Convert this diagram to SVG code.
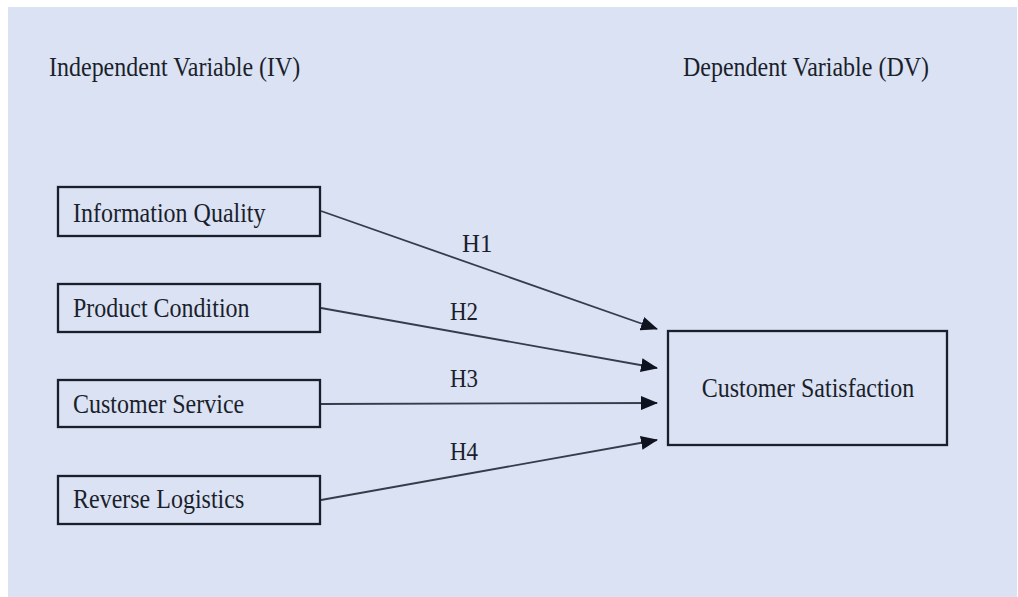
<svg xmlns="http://www.w3.org/2000/svg" width="1018" height="597" viewBox="0 0 1018 597">
  <style>
    .bg { fill: #dbe2f4; }
    .box { fill: #dbe2f4; stroke: #1a1f2c; stroke-width: 2.3; }
    .lbl { font-family: "Liberation Serif", "Times New Roman", serif; font-size: 24px; fill: #1a1f2b; }
    .hyp { font-family: "Liberation Serif", "Times New Roman", serif; font-size: 23px; fill: #1a1f2b; }
    .edge { fill: none; stroke: #363c4a; stroke-width: 1.8; }
  </style>
  <defs>
    <marker id="arrow" markerUnits="userSpaceOnUse" markerWidth="17" markerHeight="14" refX="16" refY="7" orient="auto">
      <path d="M0,0 L17,7 L0,14 Z" fill="#0f1320"/>
    </marker>
  </defs>

  <rect x="0" y="0" width="1018" height="597" fill="#ffffff"/>
  <rect class="bg" x="8" y="7" width="1009" height="590"/>

  <!-- column headings -->
  <g id="heading-iv">
    <text class="lbl" transform="translate(49,76) scale(1,1.1)">Independent Variable (IV)</text>
  </g>
  <g id="heading-dv">
    <text class="lbl" transform="translate(683,76) scale(1,1.1)">Dependent Variable (DV)</text>
  </g>

  <!-- connectors -->
  <g id="connectors">
    <line class="edge" x1="321" y1="211" x2="657" y2="329" marker-end="url(#arrow)"/>
    <line class="edge" x1="321" y1="308" x2="657" y2="368" marker-end="url(#arrow)"/>
    <line class="edge" x1="321" y1="404" x2="657" y2="403" marker-end="url(#arrow)"/>
    <line class="edge" x1="321" y1="500" x2="657" y2="440" marker-end="url(#arrow)"/>
    <text class="hyp" transform="translate(462,252) scale(1.08,1.12)">H1</text>
    <text class="hyp" transform="translate(450,320) scale(1,1.1)">H2</text>
    <text class="hyp" transform="translate(450,387) scale(1,1.1)">H3</text>
    <text class="hyp" transform="translate(450,460) scale(1,1.1)">H4</text>
  </g>

  <!-- independent variables -->
  <g id="node-information-quality">
    <rect class="box" x="58" y="187" width="262" height="49"/>
    <text class="lbl" transform="translate(73,222) scale(1,1.12)">Information Quality</text>
  </g>
  <g id="node-product-condition">
    <rect class="box" x="58" y="284" width="262" height="48"/>
    <text class="lbl" transform="translate(73,317) scale(1,1.12)">Product Condition</text>
  </g>
  <g id="node-customer-service">
    <rect class="box" x="58" y="380" width="262" height="47"/>
    <text class="lbl" transform="translate(73,413) scale(1,1.12)">Customer Service</text>
  </g>
  <g id="node-reverse-logistics">
    <rect class="box" x="58" y="476" width="262" height="48"/>
    <text class="lbl" transform="translate(73,508) scale(1,1.12)">Reverse Logistics</text>
  </g>

  <!-- dependent variable -->
  <g id="node-customer-satisfaction">
    <rect class="box" x="668" y="331" width="279" height="114"/>
    <text class="lbl" text-anchor="middle" transform="translate(808,397) scale(1,1.12)">Customer Satisfaction</text>
  </g>
</svg>
